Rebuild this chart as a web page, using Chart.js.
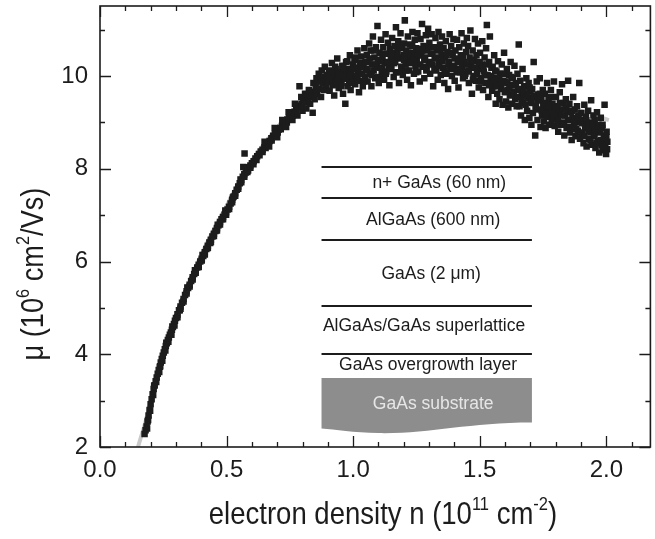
<!DOCTYPE html>
<html>
<head>
<meta charset="utf-8">
<script src="https://cdn.jsdelivr.net/npm/chart.js@4.4.1/dist/chart.umd.min.js"></script>
<style>
  html, body { margin: 0; padding: 0; background: #fff; }
  #wrap { width: 655px; height: 539px; }
</style>
</head>
<body>
<div id="wrap"><canvas id="chart" width="655" height="539"></canvas></div>
<script>
// tick labels
const xTickValues = [0, 0.5, 1.0, 1.5, 2.0];
const yTickValues = [2, 4, 6, 8, 10];

// grey guide curve
const fitN  = [0.15, 0.18, 0.20, 0.25, 0.30, 0.35, 0.40, 0.45, 0.50, 0.55, 0.60, 0.65, 0.70, 0.75, 0.80, 0.85, 0.90, 0.95, 1.00, 1.10, 1.20, 1.30, 1.40, 1.50, 1.60, 1.70, 1.80, 1.90, 2.01];
const fitMu = [2.00, 2.55, 3.00, 3.95, 4.78, 5.52, 6.15, 6.70, 7.20, 7.72, 8.18, 8.55, 8.88, 9.18, 9.46, 9.70, 9.86, 9.98, 10.06, 10.18, 10.24, 10.21, 10.12, 9.98, 9.82, 9.63, 9.43, 9.25, 9.05];

// mobility vs density, [n, mu] pairs
const risePoints = [
  [0.176,2.28],[0.180,2.36],[0.184,2.44],[0.188,2.55],[0.192,2.68],[0.196,2.80],[0.200,2.92],[0.204,3.03],
  [0.208,3.14],[0.212,3.25],[0.216,3.33],[0.220,3.42],[0.224,3.50],[0.228,3.58],[0.232,3.66],[0.236,3.73],
  [0.240,3.82],[0.244,3.90],[0.248,3.97],[0.252,4.04],[0.256,4.11],[0.260,4.18],[0.264,4.24],[0.268,4.31],
  [0.272,4.36],[0.276,4.42],[0.280,4.47],[0.284,4.53],[0.288,4.59],[0.292,4.65],[0.296,4.72],[0.300,4.78],
  [0.306,4.86],[0.312,4.95],[0.318,5.03],[0.324,5.11],[0.330,5.19],[0.336,5.28],[0.342,5.36],[0.348,5.43],
  [0.354,5.50],[0.360,5.58],[0.366,5.66],[0.372,5.73],[0.378,5.80],[0.384,5.87],[0.390,5.93],[0.396,6.00],
  [0.402,6.06],[0.408,6.12],[0.414,6.20],[0.420,6.27],[0.426,6.34],[0.432,6.41],[0.438,6.47],[0.444,6.54],
  [0.450,6.60],[0.456,6.66],[0.462,6.72],[0.468,6.78],[0.474,6.85],[0.480,6.91],[0.486,6.96],[0.492,7.01],
  [0.498,7.06],[0.504,7.12],[0.510,7.18],[0.516,7.25],[0.522,7.33],[0.528,7.40],[0.534,7.47],[0.540,7.55],
  [0.546,7.62],[0.552,7.69],[0.558,7.76],[0.564,7.83],[0.570,7.88],[0.576,7.92],[0.582,7.98],[0.588,8.03],
  [0.594,8.07],[0.600,8.12],[0.571,8.33],[0.566,8.04],
  [0.190,2.58],[0.214,3.32],[0.238,3.74],[0.262,4.25],[0.286,4.60],[0.315,4.95],[0.345,5.44],[0.375,5.81],
  [0.405,6.14],[0.435,6.40],[0.465,6.79],[0.495,7.10],[0.525,7.38],[0.555,7.77],[0.585,7.96]
];
const bandEdgePoints = [
  [0.186,2.40],[0.198,2.78],[0.210,3.12],[0.222,3.40],[0.234,3.62],[0.246,3.86],[0.258,4.08],[0.270,4.27],
  [0.282,4.42],[0.294,4.62],[0.306,4.80],[0.318,4.98],[0.330,5.14],[0.342,5.31],[0.354,5.46],[0.366,5.61],
  [0.378,5.76],[0.390,5.88],[0.402,6.02],[0.414,6.15],[0.426,6.29],[0.438,6.42],[0.450,6.55],[0.462,6.67],
  [0.474,6.80],[0.486,6.91],[0.498,7.01],[0.510,7.13],[0.522,7.28],[0.534,7.42],[0.546,7.57],[0.558,7.71],
  [0.570,7.83],[0.582,7.93],[0.594,8.02],[0.606,8.10],[0.618,8.19],[0.630,8.29],[0.642,8.36],[0.654,8.45],
  [0.666,8.52],[0.678,8.61],[0.690,8.70],[0.702,8.78],[0.714,8.85],[0.726,8.93],[0.738,9.00],[0.750,9.08],
  [0.762,9.15],[0.774,9.22],[0.786,9.30],[0.798,9.36],[0.810,9.43],[0.822,9.50],[0.834,9.56]
];
const kneePoints = [
  [0.607,8.16],[0.614,8.22],[0.621,8.27],[0.628,8.32],[0.635,8.37],[0.642,8.41],[0.649,8.46],[0.656,8.50],
  [0.663,8.55],[0.670,8.60],[0.677,8.66],[0.684,8.71],[0.691,8.75],[0.698,8.80],[0.705,8.84],[0.712,8.88],
  [0.719,8.93],[0.726,8.98],[0.733,9.02],[0.740,9.06],[0.747,9.10],[0.754,9.14],[0.761,9.19],[0.768,9.23],
  [0.775,9.27],[0.782,9.32],[0.789,9.36],[0.796,9.40],[0.803,9.44],[0.810,9.48],[0.817,9.52],[0.824,9.55],
  [0.831,9.59],[0.838,9.63],[0.845,9.66],
  [0.650,8.58],[0.668,8.48],[0.690,8.88],[0.700,8.68],[0.720,9.05],[0.735,8.90],[0.745,9.22],[0.760,9.05],
  [0.770,9.40],[0.780,9.15],[0.788,9.78],[0.795,9.55],[0.800,9.25],[0.810,9.62],[0.815,9.30],[0.825,9.70],
  [0.830,9.40],[0.840,9.21],[0.843,9.85],[0.848,9.50]
];
const peakPoints = [
  [0.852,9.78],[0.855,9.95],[0.858,9.62],[0.861,9.88],[0.864,10.05],[0.867,9.72],[0.870,9.93],[0.873,9.55],
  [0.876,10.12],[0.879,9.84],[0.882,9.98],[0.885,9.70],[0.888,10.20],[0.891,9.90],[0.894,9.80],[0.897,10.02],
  [0.901,9.87],[0.904,10.10],[0.907,9.68],[0.910,10.00],[0.913,9.92],[0.916,10.28],[0.919,9.80],[0.922,10.05],
  [0.925,9.58],[0.928,9.96],[0.931,10.15],[0.934,9.85],[0.937,10.38],[0.940,9.98],[0.943,9.74],[0.946,10.08],[0.949,9.90],
  [0.951,10.02],[0.954,9.85],[0.957,10.22],[0.960,9.62],[0.963,10.10],[0.966,9.94],[0.969,9.40],[0.972,10.30],
  [0.975,10.05],[0.978,9.78],[0.981,10.15],[0.984,9.92],[0.987,10.45],[0.990,9.70],[0.993,10.08],[0.996,9.88],[0.999,10.25],
  [1.002,10.00],[1.005,10.35],[1.008,9.82],[1.011,10.18],[1.014,9.95],[1.017,10.55],[1.020,10.10],[1.023,9.65],
  [1.026,10.28],[1.029,9.90],[1.032,10.42],[1.035,10.05],[1.038,9.78],[1.041,10.20],[1.044,10.60],[1.047,9.98],
  [1.051,10.15],[1.054,10.45],[1.057,9.88],[1.060,10.30],[1.063,10.70],[1.066,10.05],[1.069,10.55],[1.072,9.78],
  [1.075,10.25],[1.078,10.85],[1.081,10.12],[1.084,10.40],[1.087,9.95],[1.090,10.62],[1.093,10.20],[1.096,11.08],[1.099,10.35],
  [1.101,9.85],[1.104,10.50],[1.107,10.18],[1.110,10.78],[1.113,10.02],[1.116,10.40],[1.119,10.62],[1.122,9.92],
  [1.125,10.28],[1.128,10.90],[1.131,10.10],[1.134,10.48],[1.137,10.72],[1.140,10.22],[1.143,9.80],[1.146,10.58],[1.149,10.35],
  [1.151,10.15],[1.154,10.82],[1.157,10.42],[1.160,9.98],[1.163,10.65],[1.166,10.30],[1.169,11.05],[1.172,10.08],
  [1.175,10.52],[1.178,10.75],[1.181,9.85],[1.184,10.38],[1.187,10.92],[1.190,10.20],[1.193,10.60],[1.196,10.02],[1.199,10.45],
  [1.201,10.70],[1.204,11.20],[1.207,10.25],[1.210,10.55],[1.213,9.92],[1.216,10.85],[1.219,10.40],[1.222,10.12],
  [1.225,10.68],[1.228,9.80],[1.231,10.30],[1.234,10.95],[1.237,10.50],[1.240,10.05],[1.243,10.78],[1.246,10.22],[1.249,10.60],
  [1.251,10.35],[1.254,10.92],[1.257,10.10],[1.260,10.58],[1.263,9.88],[1.266,10.80],[1.269,10.45],[1.272,11.12],
  [1.275,10.20],[1.278,10.65],[1.281,9.95],[1.284,10.40],[1.287,10.88],[1.290,10.15],[1.293,10.55],[1.296,11.02],[1.299,10.28],
  [1.301,10.72],[1.304,10.05],[1.307,10.48],[1.310,10.90],[1.313,10.25],[1.316,9.78],[1.319,10.62],[1.322,10.38],
  [1.325,10.82],[1.328,10.12],[1.331,10.55],[1.334,9.92],[1.337,10.95],[1.340,10.30],[1.343,10.68],[1.346,10.02],[1.349,10.45],
  [1.351,10.85],[1.354,10.18],[1.357,10.60],[1.360,9.85],[1.363,10.40],[1.366,10.75],[1.369,10.05],[1.372,10.52],
  [1.375,9.72],[1.378,10.30],[1.381,10.90],[1.384,10.15],[1.387,10.65],[1.390,10.00],[1.393,10.45],[1.396,10.80],[1.399,10.22],
  [1.401,9.90],[1.404,10.55],[1.407,10.15],[1.410,10.78],[1.413,10.35],[1.416,9.75],[1.419,10.62],[1.422,10.08],
  [1.425,10.45],[1.428,10.92],[1.431,10.20],[1.434,9.95],[1.437,10.70],[1.440,10.30],[1.443,10.05],[1.446,10.52],[1.449,10.82],
  [1.451,10.10],[1.454,10.65],[1.457,9.85],[1.460,10.40],[1.463,10.98],[1.466,10.22],[1.469,9.62],[1.472,10.55],
  [1.475,10.00],[1.478,10.32],[1.481,10.80],[1.484,9.90],[1.487,10.45],[1.490,10.15],[1.493,10.70],[1.496,9.75],[1.499,10.28]
];
const tailPoints = [
  [1.501,10.50],[1.504,9.95],[1.507,10.25],[1.510,10.75],[1.513,9.70],[1.516,10.10],[1.519,10.40],[1.522,9.85],
  [1.525,10.60],[1.528,11.10],[1.531,10.02],[1.534,9.55],[1.537,10.30],[1.540,10.85],[1.543,9.90],[1.546,10.18],[1.549,9.68],
  [1.551,10.20],[1.554,9.78],[1.557,10.45],[1.560,9.95],[1.563,9.40],[1.566,10.10],[1.569,9.62],[1.572,10.32],
  [1.575,9.85],[1.578,9.50],[1.581,10.05],[1.584,9.72],[1.587,10.25],[1.590,9.38],[1.593,9.90],[1.596,10.50],[1.599,9.65],
  [1.601,9.88],[1.604,9.45],[1.607,10.15],[1.610,9.70],[1.613,9.32],[1.616,10.02],[1.619,9.58],[1.622,10.30],
  [1.625,9.80],[1.628,9.40],[1.631,9.95],[1.634,9.65],[1.637,10.22],[1.640,9.50],[1.643,9.85],[1.646,9.35],[1.649,10.05],
  [1.651,9.70],[1.654,10.68],[1.657,9.35],[1.660,9.90],[1.663,9.15],[1.666,9.58],[1.669,10.15],[1.672,9.42],
  [1.675,9.78],[1.678,9.05],[1.681,9.62],[1.684,9.95],[1.687,9.25],[1.690,9.52],[1.693,9.85],[1.696,9.10],[1.699,9.68],
  [1.701,9.45],[1.704,8.95],[1.707,9.72],[1.710,9.20],[1.713,10.30],[1.716,9.55],[1.719,8.72],[1.722,9.35],
  [1.725,9.88],[1.728,9.05],[1.731,9.60],[1.734,9.28],[1.737,9.95],[1.740,8.90],[1.743,9.48],[1.746,9.15],[1.749,9.70],
  [1.751,9.38],[1.754,9.02],[1.757,9.62],[1.760,8.88],[1.763,9.25],[1.766,9.85],[1.769,9.12],[1.772,9.48],
  [1.775,8.95],[1.778,9.32],[1.781,9.70],[1.784,9.05],[1.787,9.40],[1.790,9.18],[1.793,9.88],[1.796,8.92],[1.799,9.30],
  [1.801,9.55],[1.804,9.08],[1.807,9.35],[1.810,8.80],[1.813,9.20],[1.816,9.65],[1.819,8.95],[1.822,9.28],
  [1.825,9.82],[1.828,9.00],[1.831,9.42],[1.834,8.72],[1.837,9.15],[1.840,9.50],[1.843,8.88],[1.846,9.25],[1.849,9.90],
  [1.851,9.05],[1.854,9.40],[1.857,8.78],[1.860,9.22],[1.863,8.62],[1.866,9.10],[1.869,9.55],[1.872,8.90],
  [1.875,9.28],[1.878,8.70],[1.881,9.00],[1.884,9.35],[1.887,8.82],[1.890,9.15],[1.893,9.85],[1.896,8.65],[1.899,9.02],
  [1.901,9.20],[1.904,8.75],[1.907,9.05],[1.910,8.55],[1.913,9.38],[1.916,8.88],[1.919,9.12],[1.922,8.48],
  [1.925,8.95],[1.928,9.25],[1.931,8.65],[1.934,9.00],[1.937,8.80],[1.940,9.48],[1.943,8.52],[1.946,8.92],[1.949,9.15],
  [1.951,8.70],[1.954,9.05],[1.957,8.45],[1.960,8.85],[1.963,9.22],[1.966,8.60],[1.969,8.95],[1.972,8.35],
  [1.975,8.78],[1.978,9.10],[1.981,8.50],[1.984,8.88],[1.987,8.40],[1.990,8.72],[1.993,9.38],[1.996,8.55],[1.999,8.32],
  [2.001,8.80],[2.003,8.42]
];
const corePoints = [
  [0.905,9.95],[0.913,10.12],[0.921,9.82],[0.929,10.20],[0.937,9.90],[0.945,10.02],[0.953,9.78],[0.961,10.18],
  [0.969,9.95],[0.977,10.32],[0.985,10.02],[0.993,9.85],[1.001,10.15],[1.009,10.40],[1.017,9.92],[1.025,10.05],
  [1.033,10.22],[1.041,9.88],[1.049,10.30],[1.057,10.12],[1.065,10.38],[1.073,10.02],[1.081,10.55],[1.089,10.25],
  [1.097,9.98],[1.105,10.32],[1.113,10.15],[1.121,10.48],[1.129,10.05],[1.137,10.30],[1.145,10.18],[1.153,10.50],
  [1.161,10.28],[1.169,10.08],[1.177,10.40],[1.185,10.62],[1.193,10.15],[1.201,10.35],[1.209,10.12],[1.217,10.50],
  [1.225,10.28],[1.233,10.65],[1.241,10.38],[1.249,10.08],[1.257,10.45],[1.265,10.25],[1.273,10.55],[1.281,10.35],
  [1.289,10.12],[1.297,10.62],[1.305,10.30],[1.313,10.48],[1.321,10.15],[1.329,10.40],[1.337,10.22],[1.345,10.58],
  [1.353,10.32],[1.361,10.12],[1.369,10.45],[1.377,10.25],[1.385,10.50],[1.393,10.18],[1.401,10.38],[1.409,10.08],
  [1.417,10.30],[1.425,10.15],[1.433,10.42],[1.441,10.00],[1.449,10.25],[1.457,10.12],[1.465,10.35],[1.473,9.92],
  [1.481,10.18],[1.489,10.05],[1.497,10.30],[1.505,9.88],[1.513,10.15],[1.521,10.02],[1.529,10.25],[1.537,9.80],
  [1.545,10.00],[1.553,9.90],[1.561,10.12],[1.569,9.78],[1.577,9.95],[1.585,9.85],[1.593,10.05],[1.601,9.68],
  [1.609,9.85],[1.617,9.75],[1.625,9.98],[1.633,9.60],[1.641,9.80],[1.649,9.55],[1.657,9.72],[1.665,9.48],
  [1.673,9.65],[1.681,9.38],[1.689,9.55],[1.697,9.75],[1.705,9.42],[1.713,9.58],[1.721,9.30],[1.729,9.48],
  [1.737,9.62],[1.745,9.25],[1.753,9.42],[1.761,9.15],[1.769,9.35],[1.777,9.55],[1.785,9.20],[1.793,9.10],
  [1.801,9.32],[1.809,9.05],[1.817,9.42],[1.825,9.15],[1.833,8.95],[1.841,9.30],[1.849,9.05],[1.857,8.90],
  [1.865,9.25],[1.873,9.00],[1.881,8.85],[1.889,9.12],[1.897,8.78],[1.905,8.98],[1.913,8.70],[1.921,9.05],
  [1.929,8.82],[1.937,8.62],[1.945,8.95],[1.953,8.75],[1.961,8.55],[1.969,8.85],[1.977,8.62],[1.985,8.95],
  [1.993,8.48],[2.000,8.68],[2.004,8.58]
];

const FONT = '"Liberation Sans", Arial, Helvetica, sans-serif';
const INK = '#1c1c1c';

// rich text: parts are [text, isSuperscript]
function richWidth(ctx, parts, size) {
  let w = 0;
  for (const [t, sup] of parts) {
    ctx.font = (sup ? size * 0.6 : size) + 'px ' + FONT;
    w += ctx.measureText(t).width;
  }
  return w;
}
function drawRich(ctx, parts, size) {
  let x = -richWidth(ctx, parts, size) / 2;
  for (const [t, sup] of parts) {
    ctx.font = (sup ? size * 0.6 : size) + 'px ' + FONT;
    ctx.fillText(t, x, sup ? -size * 0.45 : 0);
    x += ctx.measureText(t).width;
  }
}

const frameAndInset = {
  id: 'frameAndInset',
  afterDraw(chart) {
    const { ctx, chartArea: a, scales: { x, y } } = chart;
    ctx.save();
    ctx.strokeStyle = INK;
    ctx.fillStyle = INK;

    // frame
    ctx.lineWidth = 1.6;
    ctx.strokeRect(a.left, a.top, a.right - a.left, a.bottom - a.top);

    // inward ticks on all four sides
    ctx.lineWidth = 1.3;
    ctx.beginPath();
    for (let i = 0; i <= 21; i++) {
      const v = i / 10;
      const len = i % 5 === 0 ? 11 : 5;
      const px = Math.round(x.getPixelForValue(v)) + 0.5;
      ctx.moveTo(px, a.bottom); ctx.lineTo(px, a.bottom - len);
      ctx.moveTo(px, a.top); ctx.lineTo(px, a.top + len);
    }
    for (let v = 2; v <= 11; v++) {
      const len = v % 2 === 0 ? 11 : 5;
      const py = Math.round(y.getPixelForValue(v)) + 0.5;
      ctx.moveTo(a.left, py); ctx.lineTo(a.left + len, py);
      ctx.moveTo(a.right, py); ctx.lineTo(a.right - len, py);
    }
    ctx.stroke();

    // axis titles
    ctx.textBaseline = 'alphabetic';
    ctx.textAlign = 'left';
    ctx.save();
    ctx.translate(383, 524);
    ctx.scale(0.86, 1);
    drawRich(ctx, [['electron density n (10', false], ['11', true], [' cm', false], ['-2', true], [')', false]], 32);
    ctx.restore();

    ctx.save();
    ctx.translate(43, 274);
    ctx.rotate(-Math.PI / 2);
    ctx.scale(0.85, 1);
    drawRich(ctx, [['\u03bc (10', false], ['6', true], [' cm', false], ['2', true], ['/Vs)', false]], 32);
    ctx.restore();

    // layer stack sketch
    const x0 = x.getPixelForValue(0.875), x1 = x.getPixelForValue(1.706);
    ctx.lineWidth = 2;
    ctx.beginPath();
    for (const m of [8.03, 7.38, 6.47, 5.05, 4.01]) {
      const py = Math.round(y.getPixelForValue(m));
      ctx.moveTo(x0, py); ctx.lineTo(x1, py);
    }
    ctx.stroke();

    const top = y.getPixelForValue(3.49);
    ctx.fillStyle = '#8d8d8d';
    ctx.beginPath();
    ctx.moveTo(x0, top);
    ctx.lineTo(x1, top);
    ctx.lineTo(x1, y.getPixelForValue(2.53));
    ctx.bezierCurveTo(x.getPixelForValue(1.45), y.getPixelForValue(2.53),
                      x.getPixelForValue(1.30), y.getPixelForValue(2.28),
                      x.getPixelForValue(1.10), y.getPixelForValue(2.30));
    ctx.bezierCurveTo(x.getPixelForValue(1.00), y.getPixelForValue(2.31),
                      x.getPixelForValue(0.93), y.getPixelForValue(2.38),
                      x0, y.getPixelForValue(2.40));
    ctx.closePath();
    ctx.fill();

    ctx.textAlign = 'center';
    ctx.textBaseline = 'middle';
    ctx.font = '17.5px ' + FONT;
    const labels = [
      ['n+ GaAs (60 nm)', 1.340, 7.68],
      ['AlGaAs (600 nm)', 1.316, 6.90],
      ['GaAs (2 \u03bcm)', 1.308, 5.72],
      ['AlGaAs/GaAs superlattice', 1.280, 4.60],
      ['GaAs overgrowth layer', 1.296, 3.76]
    ];
    ctx.fillStyle = INK;
    for (const [t, n, m] of labels) ctx.fillText(t, x.getPixelForValue(n), y.getPixelForValue(m));
    ctx.fillStyle = '#e6e6e6';
    ctx.fillText('GaAs substrate', x.getPixelForValue(1.316), y.getPixelForValue(2.92));
    ctx.restore();
  }
};

const toXY = p => ({ x: p[0], y: p[1] });
const allPoints = [...risePoints, ...bandEdgePoints, ...kneePoints, ...peakPoints, ...tailPoints, ...corePoints];

new Chart(document.getElementById('chart'), {
  type: 'scatter',
  data: {
    datasets: [
      {
        label: 'fit',
        data: fitN.map((n, i) => ({ x: n, y: fitMu[i] })),
        showLine: true,
        borderColor: '#cacaca',
        borderWidth: 4,
        pointRadius: 0,
        tension: 0.4,
        order: 2
      },
      {
        label: 'mobility',
        data: allPoints.map(toXY),
        pointStyle: 'rect',
        pointRadius: 4.6,
        backgroundColor: INK,
        borderWidth: 0,
        order: 1
      }
    ]
  },
  options: {
    responsive: false,
    animation: false,
    devicePixelRatio: 1,
    layout: { padding: { top: 6, right: 3, left: 0, bottom: 0 } },
    plugins: { legend: { display: false }, tooltip: { enabled: false } },
    scales: {
      x: {
        type: 'linear',
        min: 0,
        max: 2.174,
        grid: { display: false, drawTicks: false },
        border: { display: false },
        afterFit: s => { s.height = 92; s.paddingLeft = 0; s.paddingRight = 0; },
        afterBuildTicks: s => { s.ticks = xTickValues.map(v => ({ value: v })); },
        ticks: {
          padding: 9,
          color: INK,
          font: { family: FONT, size: 24 },
          callback: v => v.toFixed(1)
        }
      },
      y: {
        type: 'linear',
        min: 2,
        max: 11.51,
        grid: { display: false, drawTicks: false },
        border: { display: false },
        afterFit: s => { s.width = 100; s.paddingTop = 0; s.paddingBottom = 0; },
        afterBuildTicks: s => { s.ticks = yTickValues.map(v => ({ value: v })); },
        ticks: {
          padding: 12,
          color: INK,
          font: { family: FONT, size: 24 },
          callback: v => String(v)
        }
      }
    }
  },
  plugins: [frameAndInset]
});
</script>
</body>
</html>
